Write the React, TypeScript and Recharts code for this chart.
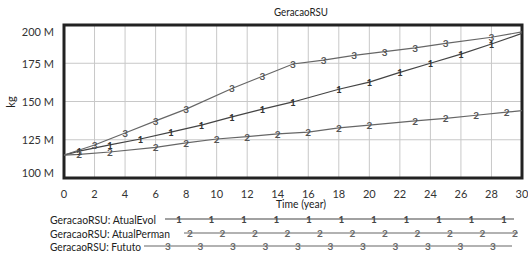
import React from "react";
import { LineChart, Line, XAxis, YAxis, CartesianGrid, ReferenceArea } from "recharts";

// values in millions of kg
const atualEvol = [
  { t: 0, v: 115 }, { t: 1, v: 117.6 }, { t: 3, v: 121.6 }, { t: 5, v: 125.5 },
  { t: 7, v: 130 }, { t: 9, v: 134.6 }, { t: 11, v: 140 }, { t: 13, v: 145 },
  { t: 15, v: 149.7 }, { t: 18, v: 158 }, { t: 20, v: 162.7 }, { t: 22, v: 169 },
  { t: 24, v: 175 }, { t: 26, v: 181 }, { t: 28, v: 187.6 }, { t: 30, v: 194.5 },
];
const atualPerman = [
  { t: 0, v: 115 }, { t: 1, v: 115.5 }, { t: 3, v: 117 }, { t: 6, v: 120 },
  { t: 8, v: 122.9 }, { t: 10, v: 125.5 }, { t: 12, v: 127 }, { t: 14, v: 128.8 },
  { t: 16, v: 130 }, { t: 18, v: 132.7 }, { t: 20, v: 134.6 }, { t: 23, v: 137.3 },
  { t: 25, v: 139 }, { t: 27, v: 141 }, { t: 29, v: 143 }, { t: 30, v: 144 },
];
const futuro = [
  { t: 0, v: 115 }, { t: 2, v: 121.6 }, { t: 4, v: 129.4 }, { t: 6, v: 137.3 },
  { t: 8, v: 145 }, { t: 11, v: 158.5 }, { t: 13, v: 166.5 }, { t: 15, v: 174.5 },
  { t: 17, v: 177 }, { t: 19, v: 180.2 }, { t: 21, v: 182.6 }, { t: 23, v: 185 },
  { t: 25, v: 188 }, { t: 28, v: 192 }, { t: 30, v: 195.5 },
];

const xTicks = [0, 2, 4, 6, 8, 10, 12, 14, 16, 18, 20, 22, 24, 26, 28, 30];
const yTicks = [100, 125, 150, 175, 200];

const legendRows = [
  { label: "GeracaoRSU: AtualEvol", mark: "1", textStart: 50, textLen: 106, x1: 165, x2: 514, first: 179, y: 219, color: "#444" },
  { label: "GeracaoRSU: AtualPerman", mark: "2", textStart: 50, textLen: 120, x1: 184, x2: 518, first: 190, y: 233, color: "#666" },
  { label: "GeracaoRSU: Fututo", mark: "3", textStart: 50, textLen: 91, x1: 144, x2: 512, first: 168, y: 246, color: "#666" },
];

const FONT = "Lato, 'Open Sans', sans-serif";

const makeDot = (mark: string, color: string, last: number) => (props: any) => {
  const { cx, cy, index } = props;
  if (index === 0 || index === last) return <g key={index} />;
  return (
    <text key={index} x={cx} y={cy} textAnchor="middle" dominantBaseline="central"
      fontSize={10} fontFamily={FONT} fill={color} fontWeight="bold">
      {mark}
    </text>
  );
};

const YTick = (props: any) => {
  const { x, y, payload } = props;
  let dy = 0;
  if (payload.value === 200) dy = 6;
  if (payload.value === 100) dy = -6;
  return (
    <text x={x - 2} y={y + dy} textAnchor="end" dominantBaseline="central"
      fontSize={11} fontFamily={FONT} fill="#333">
      {payload.value} M
    </text>
  );
};

export default function App() {
  return (
    <div style={{ position: "absolute", left: 0, top: 0, width: 528, height: 253, background: "#fff" }}>
      <LineChart width={528} height={253} margin={{ top: 25, right: 6, bottom: 45, left: 14 }}>
        <CartesianGrid stroke="#c8c8c8" strokeWidth={1} horizontalValues={yTicks} verticalValues={xTicks} />
        <XAxis type="number" dataKey="t" domain={[0, 30]} ticks={xTicks} allowDataOverflow
          axisLine={false} tickLine={false} height={30} tickMargin={6}
          tick={{ fontSize: 11, fontFamily: FONT, fill: "#333" }} />
        <YAxis type="number" dataKey="v" domain={[100, 200]} ticks={yTicks} allowDataOverflow
          axisLine={false} tickLine={false} width={50} tick={<YTick />} />
        <ReferenceArea x1={0} x2={30} y1={100} y2={200} fill="none" stroke="#222" strokeWidth={3} ifOverflow="visible" />
        <Line data={atualEvol} dataKey="v" stroke="#444" strokeWidth={1.2} isAnimationActive={false}
          dot={makeDot("1", "#333", atualEvol.length - 1)} />
        <Line data={atualPerman} dataKey="v" stroke="#666" strokeWidth={1.2} isAnimationActive={false}
          dot={makeDot("2", "#555", atualPerman.length - 1)} />
        <Line data={futuro} dataKey="v" stroke="#666" strokeWidth={1.2} isAnimationActive={false}
          dot={makeDot("3", "#555", futuro.length - 1)} />
      </LineChart>
      <svg width={528} height={253} style={{ position: "absolute", left: 0, top: 0, pointerEvents: "none" }}>
        <text x={274} y={11} dominantBaseline="central" fontSize={11.5} fontFamily={FONT} fill="#222"
          textLength={54} lengthAdjust="spacingAndGlyphs">
          GeracaoRSU
        </text>
        <text x={276} y={203} dominantBaseline="central" fontSize={11.5} fontFamily={FONT} fill="#222"
          textLength={50} lengthAdjust="spacingAndGlyphs">
          Time (year)
        </text>
        <text x={10} y={102} textAnchor="middle" dominantBaseline="central" fontSize={11} fontFamily={FONT} fill="#222"
          transform="rotate(-90 10 102)">
          kg
        </text>
        {legendRows.map((r) => {
          const marks: number[] = [];
          for (let i = 0; i < 11; i++) marks.push(r.first + i * 32.5);
          return (
            <g key={r.mark}>
              <text x={r.textStart} y={r.y} dominantBaseline="central" fontSize={11} fontFamily={FONT} fill="#222"
                textLength={r.textLen} lengthAdjust="spacingAndGlyphs">
                {r.label}
              </text>
              <line x1={r.x1} x2={r.x2} y1={r.y} y2={r.y} stroke={r.color} strokeWidth={1.2} />
              {marks.map((mx) => (
                <text key={mx} x={mx} y={r.y} textAnchor="middle" dominantBaseline="central" fontSize={10}
                  fontFamily={FONT} fill={r.color} fontWeight="bold">
                  {r.mark}
                </text>
              ))}
            </g>
          );
        })}
      </svg>
    </div>
  );
}
